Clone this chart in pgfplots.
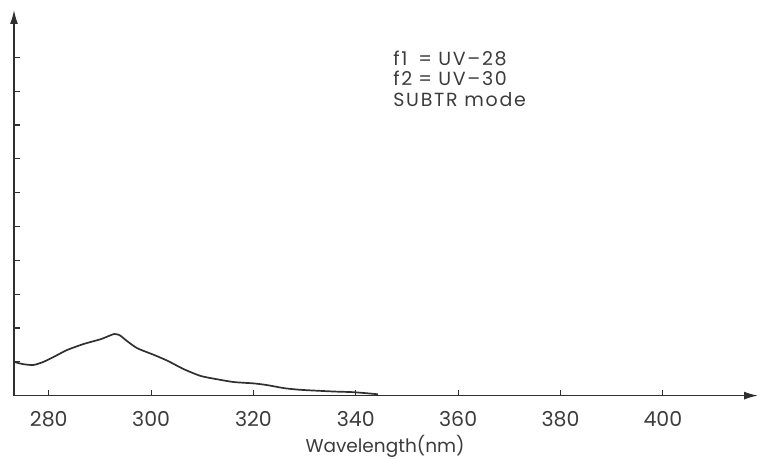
\documentclass[border=0pt]{standalone}
\usepackage{fontspec}
\setmainfont{Poppins}
\newfontfamily\annfont{Poppins}[LetterSpace=9]
\usepackage{pgfplots}
\usetikzlibrary{arrows.meta}
\pgfplotsset{compat=1.18}
\definecolor{ink}{HTML}{303030}
\definecolor{txt}{HTML}{3C3C3C}
\begin{document}
\begin{tikzpicture}
\path[use as bounding box] (-14pt,-62.4pt) rectangle (746pt,395.6pt);
\begin{axis}[
  scale only axis,
  width=744pt, height=385.6pt,
  xmin=273.2, xmax=418.6,
  ymin=0, ymax=11.4,
  axis lines=left,
  axis line style={ink, line width=1.4pt, -{Latex[length=14pt,width=8pt]}},
  xtick={280,300,...,400},
  ytick={1,...,10},
  yticklabels={},
  tick align=inside,
  major tick length=6pt,
  tick style={ink, line width=1.1pt},
  /pgf/number format/assume math mode=true,
  ticklabel style={font=\fontsize{20.5}{24}\selectfont, text=txt},
  xticklabel style={yshift=-12pt},
  xlabel={Wavelength(nm)},
  xlabel style={font=\fontsize{18.5}{22}\selectfont, text=txt,
    at={(axis description cs:0.4987,0)}, anchor=base, yshift=-56.5pt},
  clip=false,
]
\addplot[ink, line width=1.7pt, smooth, tension=0.4] coordinates {
(273.1,1.00) (275.0,0.93) (277.0,0.905) (279.0,1.00) (281.3,1.17) (283.6,1.35)
(286.9,1.53) (290.2,1.67) (292.0,1.78) (292.8,1.82) (293.8,1.79) (295.4,1.60)
(297.3,1.40) (300.6,1.20) (303.2,1.03) (306.4,0.78) (309.7,0.58) (313.0,0.48)
(316.2,0.40) (320.1,0.36) (322.7,0.31) (326.0,0.22) (329.3,0.17) (335.8,0.12)
(339.7,0.10) (344.3,0.04)
};
\node[anchor=north west, align=left, text=txt, font=\annfont\fontsize{19}{20.5}\selectfont, inner sep=0pt]
  at (axis cs:347.3,10.2) {\makebox[25pt][l]{f1}\makebox[20pt][l]{=}UV{\textendash}28\\ \makebox[25pt][l]{f2}\makebox[20pt][l]{=}UV{\textendash}30\\ SUBTR mode};
\end{axis}
\end{tikzpicture}
\end{document}
